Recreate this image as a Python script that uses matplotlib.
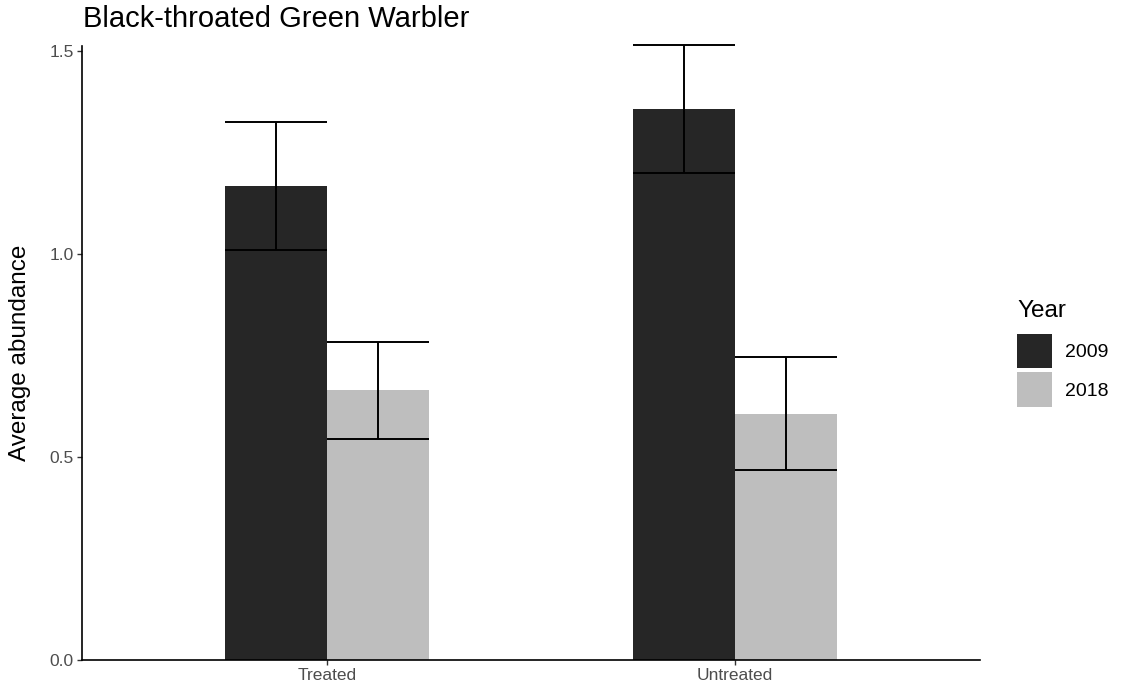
import matplotlib
matplotlib.use("Agg")
import matplotlib.pyplot as plt
from matplotlib.patches import Patch
import numpy as np

plt.rcParams['font.family'] = ['Liberation Sans', 'DejaVu Sans']

categories = ["Treated", "Untreated"]
years = ["2009", "2018"]
mean_2009 = [1.167, 1.357]
err_2009 = [0.158, 0.157]
mean_2018 = [0.664, 0.607]
err_2018 = [0.120, 0.140]
colors = {"2009": "#262626", "2018": "#BEBEBE"}

fig = plt.figure(figsize=(11.25, 6.96), dpi=100)
ax = fig.add_axes([82/1125, 36/696, (980-82)/1125, (660-46)/696])

x = np.arange(1, len(categories) + 1)
w = 0.25
for offs, yr, means, errs in [(-w/2, "2009", mean_2009, err_2009), (w/2, "2018", mean_2018, err_2018)]:
    xs = x + offs
    ax.bar(xs, means, width=w, color=colors[yr], edgecolor='none', zorder=2)
    lo = np.array(means) - np.array(errs)
    hi = np.array(means) + np.array(errs)
    ax.vlines(xs, lo, hi, color='black', lw=1.4, zorder=3, clip_on=False)
    ax.hlines(lo, xs - w/2, xs + w/2, color='black', lw=1.4, zorder=3, clip_on=False)
    ax.hlines(hi, xs - w/2, xs + w/2, color='black', lw=1.4, zorder=3, clip_on=False)

ax.set_xlim(0.4, 2.6)
ax.set_ylim(0, 1.512)
ax.set_xticks(x)
ax.set_xticklabels(categories)
ax.set_yticks([0, 0.5, 1.0, 1.5])
ax.set_yticklabels(["0.0", "0.5", "1.0", "1.5"])
ax.tick_params(axis='both', length=3.5, width=1.0, color='#333333', labelsize=12.5, labelcolor='#4D4D4D', pad=2.5)
for s in ['top', 'right']:
    ax.spines[s].set_visible(False)
for s in ['left', 'bottom']:
    ax.spines[s].set_linewidth(1.2)
    ax.spines[s].set_color('black')

ax.set_ylabel("Average abundance", fontsize=17.5, labelpad=13)
fig.text(83/1125, 1 - 19/696, "Black-throated Green Warbler", fontsize=21, ha='left', va='center')

fig.text(1017/1125, 1 - 311/696, "Year", fontsize=17.5, ha='left', va='center')
handles = [Patch(facecolor=colors[y], edgecolor='none') for y in years]
leg = fig.legend(handles, years, loc='upper left',
                 bbox_to_anchor=(1017/1125, 1 - 334/696), frameon=False,
                 fontsize=14, handlelength=1.8, handleheight=2.35,
                 labelspacing=0.2, handletextpad=0.65, borderpad=0, borderaxespad=0)

fig.savefig("out.png", dpi=100)
